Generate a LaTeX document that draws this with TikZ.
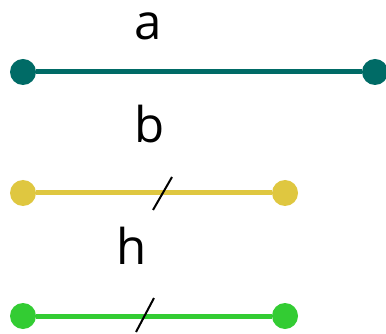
\documentclass[tikz,border=0pt]{standalone}
\usepackage{fontspec}
\setmainfont{Open Sans}
\usepackage{tikz}
\usetikzlibrary{positioning}
\definecolor{tealline}{RGB}{0,107,102}
\definecolor{yellowline}{RGB}{223,199,64}
\definecolor{greenline}{RGB}{51,204,51}
\tikzstyle{dot}=[circle,inner sep=0,minimum size=0.52cm]
\tikzstyle{seg}=[line width=1mm]
\tikzstyle{tick}=[line width=0.4mm,black]
\tikzstyle{lbl}=[anchor=base,inner sep=0,font=\fontsize{28}{30}\selectfont]

\begin{document}
\begin{tikzpicture}
		\useasboundingbox (0,0) rectangle (7.72,-6.68);
		
		% segment a
		\node[lbl] (la) at (2.96,-0.80) {a};
		\node[dot, fill=tealline] (a1) at (0.46,-1.44) {};
		\node[dot, fill=tealline] (a2) at (7.50,-1.44) {};
		\draw[seg, tealline] (a1) -- (a2);
		
		% segment b
		\node[lbl] (lb) at (3.00,-2.86) {b};
		\node[dot, fill=yellowline] (b1) at (0.46,-3.86) {};
		\node[dot, fill=yellowline] (b2) at (5.70,-3.86) {};
		\draw[seg, yellowline] (b1) -- (b2);
		\coordinate (bt1) at (3.06,-4.20);
		\coordinate (bt2) at (3.44,-3.54);
		\draw[tick] (bt1) -- (bt2);
		
		% segment h
		\node[lbl] (lh) at (2.64,-5.28) {h};
		\node[dot, fill=greenline] (h1) at (0.46,-6.32) {};
		\node[dot, fill=greenline] (h2) at (5.70,-6.32) {};
		\draw[seg, greenline] (h1) -- (h2);
		\coordinate (ht1) at (2.72,-6.64);
		\coordinate (ht2) at (3.08,-5.96);
		\draw[tick] (ht1) -- (ht2);
	\end{tikzpicture}
\end{document}
